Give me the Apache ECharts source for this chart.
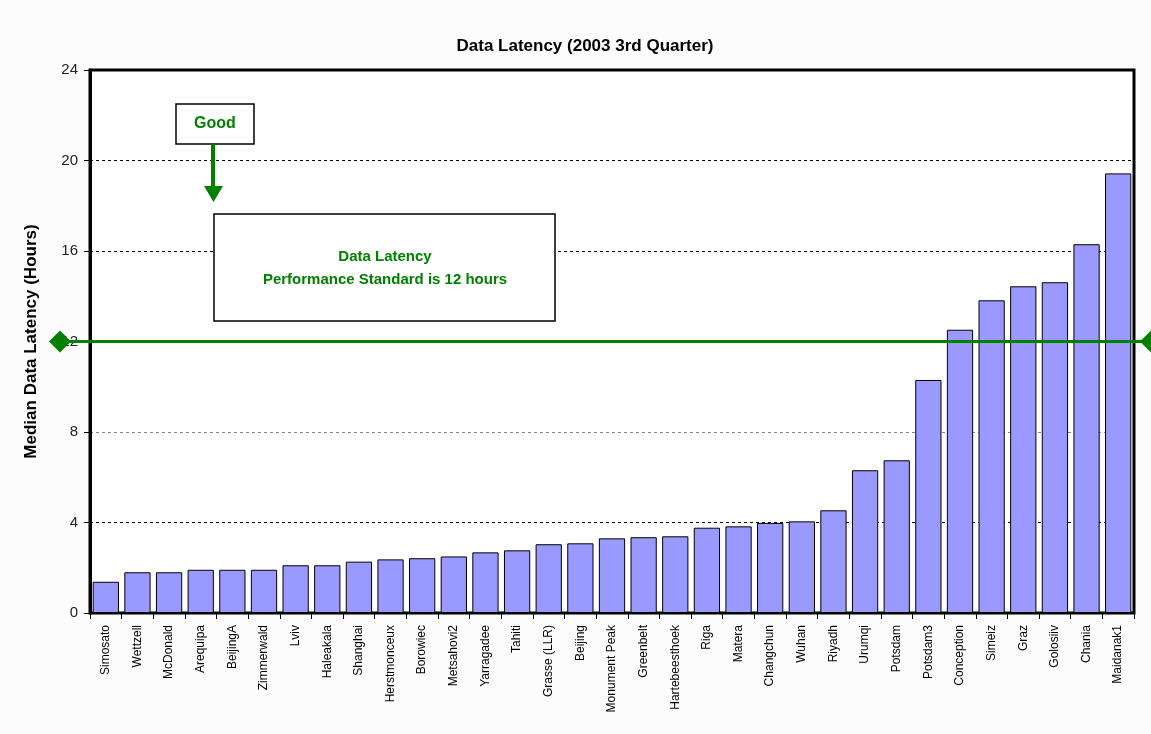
<!DOCTYPE html>
<html>
<head>
<meta charset="utf-8">
<script src="https://cdn.jsdelivr.net/npm/echarts@6/dist/echarts.min.js"></script>
<style>
  html, body { margin: 0; padding: 0; background: #fcfcfc; }
  #chart { width: 1151px; height: 734px; }
</style>
</head>
<body>
<div id="chart"></div>
<script>
// Stations, sorted by median latency
const stations = [
  'Simosato', 'Wettzell', 'McDonald', 'Arequipa', 'BeijingA', 'Zimmerwald',
  'Lviv', 'Haleakala', 'Shanghai', 'Herstmonceux', 'Borowiec', 'Metsahovi2',
  'Yarragadee', 'Tahiti', 'Grasse (LLR)', 'Beijing', 'Monument Peak', 'Greenbelt',
  'Hartebeesthoek', 'Riga', 'Matera', 'Changchun', 'Wuhan', 'Riyadh',
  'Urumqi', 'Potsdam', 'Potsdam3', 'Conception', 'Simeiz', 'Graz',
  'Golosiiv', 'Chania', 'Maidanak1'
];

// Median data latency in hours
const latencyHours = [
  1.38, 1.80, 1.80, 1.91, 1.91, 1.91,
  2.11, 2.11, 2.27, 2.37, 2.42, 2.50,
  2.68, 2.77, 3.04, 3.08, 3.30, 3.35,
  3.39, 3.77, 3.83, 3.98, 4.05, 4.54,
  6.31, 6.75, 10.30, 12.52, 13.82, 14.44,
  14.62, 16.30, 19.43
];

// Performance standard (hours)
const standardHours = 12;

// Value axis ticks
const yTicks = { min: 0, max: 24, interval: 4 };

const green = '#008000';
const fontFamily = '"Liberation Sans", Arial, sans-serif';

const chart = echarts.init(document.getElementById('chart'), null, { renderer: 'canvas' });

const option = {
  backgroundColor: '#fcfcfc',
  animation: false,
  title: {
    text: 'Data Latency (2003 3rd Quarter)',
    left: 580,
    textAlign: 'center',
    top: 33,
    textStyle: { fontFamily, fontSize: 17, fontWeight: 'bold', color: '#000' }
  },
  grid: {
    left: 90, right: 17, top: 70, bottom: 121,
    show: true, backgroundColor: '#ffffff',
    borderColor: '#000', borderWidth: 3
  },
  xAxis: {
    type: 'category',
    data: stations,
    boundaryGap: true,
    axisLine: { lineStyle: { color: '#000', width: 2 } },
    axisTick: { show: true, alignWithLabel: false, length: 6, lineStyle: { color: '#000', width: 1 } },
    axisLabel: {
      interval: 0, rotate: 90, margin: 12,
      fontFamily, fontSize: 12, color: '#000'
    }
  },
  yAxis: {
    type: 'value',
    min: yTicks.min, max: yTicks.max, interval: yTicks.interval,
    name: 'Median Data Latency (Hours)',
    nameLocation: 'middle',
    nameGap: 50,
    nameTextStyle: { fontFamily, fontSize: 17, fontWeight: 'bold', color: '#000' },
    axisLine: { show: true, lineStyle: { color: '#000', width: 3 } },
    axisTick: { show: true, length: 6, lineStyle: { color: '#000', width: 1 } },
    axisLabel: { fontFamily, fontSize: 15, color: '#222', margin: 12 },
    splitLine: {
      show: true,
      lineStyle: {
        color: ['#000', '#000', '#888', '#000', '#000', '#000', '#000'],
        type: [3, 3], width: 1
      }
    }
  },
  series: [{
    type: 'bar',
    data: latencyHours,
    barCategoryGap: '17%',
    itemStyle: { color: '#9999ff', borderColor: '#000', borderWidth: 1 },
    z: 3
  }]
};

chart.setOption(option);

// Performance standard line, drawn across the chart with diamond ends
const yStd = chart.convertToPixel({ yAxisIndex: 0 }, standardHours);
const d = 11;
const diamond = (cx) => ({
  type: 'polygon',
  shape: { points: [[cx - d, yStd], [cx, yStd - d], [cx + d, yStd], [cx, yStd + d]] },
  style: { fill: green },
  z: 20
});

chart.setOption({
  graphic: [
    {
      type: 'line',
      shape: { x1: 60, y1: yStd, x2: 1151, y2: yStd },
      style: { stroke: green, lineWidth: 3 },
      z: 19
    },
    diamond(60),
    diamond(1151),
    // "Good" callout with arrow
    {
      type: 'rect',
      shape: { x: 176, y: 104, width: 78, height: 40 },
      style: { fill: '#fff', stroke: '#000', lineWidth: 1.5 },
      z: 15
    },
    {
      type: 'text',
      x: 215, y: 124,
      style: {
        text: 'Good', fill: green, align: 'center', verticalAlign: 'middle',
        font: 'bold 16px ' + fontFamily
      },
      z: 16
    },
    {
      type: 'rect',
      shape: { x: 211, y: 144, width: 4, height: 43 },
      style: { fill: green },
      z: 15
    },
    {
      type: 'polygon',
      shape: { points: [[204, 186], [223, 186], [213.5, 202]] },
      style: { fill: green },
      z: 15
    },
    // Standard description box
    {
      type: 'rect',
      shape: { x: 214, y: 214, width: 341, height: 107 },
      style: { fill: '#fff', stroke: '#000', lineWidth: 1.5 },
      z: 15
    },
    {
      type: 'text',
      x: 385, y: 268,
      style: {
        text: 'Data Latency\nPerformance Standard is 12 hours',
        fill: green, align: 'center', verticalAlign: 'middle',
        font: 'bold 15px ' + fontFamily, lineHeight: 23
      },
      z: 16
    }
  ]
});
</script>
</body>
</html>
